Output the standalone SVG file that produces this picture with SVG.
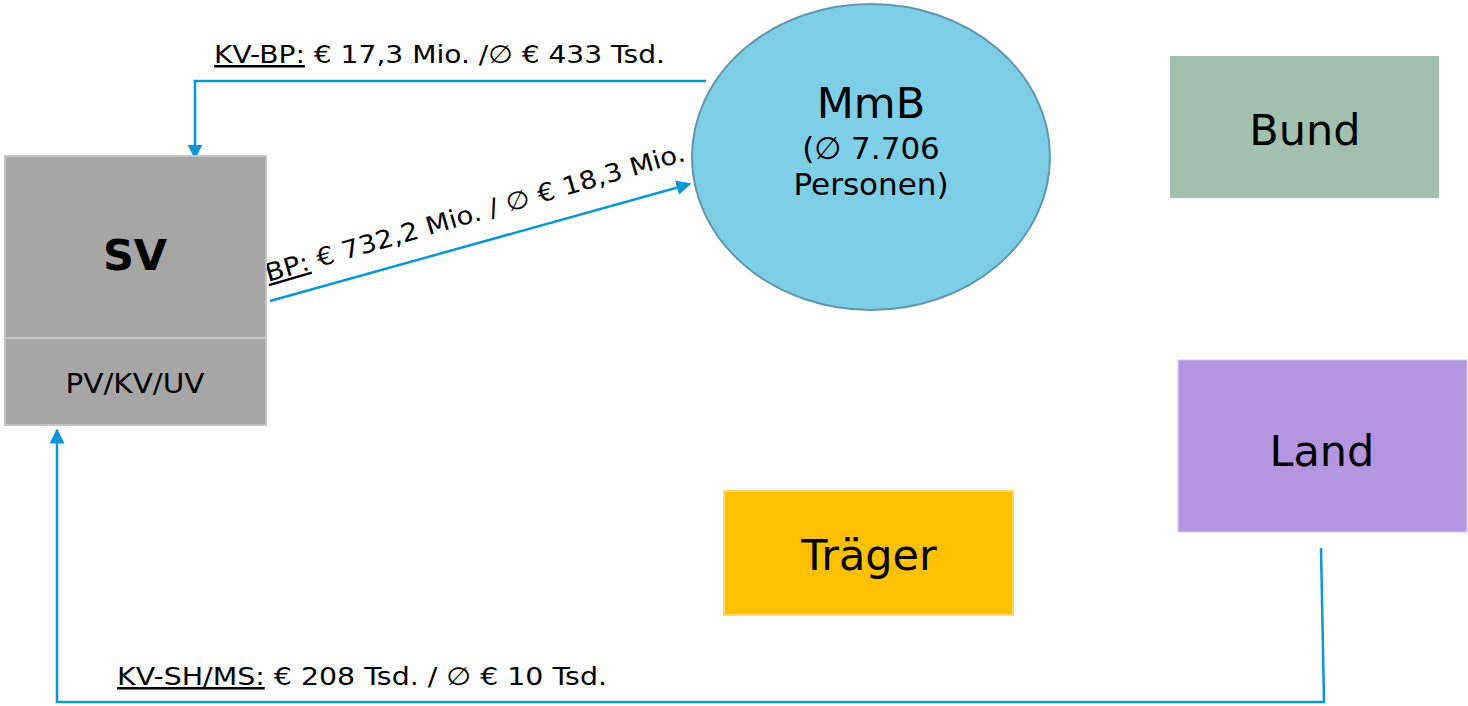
<svg xmlns="http://www.w3.org/2000/svg" width="1468" height="706" viewBox="0 0 1468 706">
<defs>
<style>
text{font-family:"DejaVu Sans","Liberation Sans",sans-serif;fill:#000}
.lbl{font-size:25px}
.u{text-decoration:underline}
.big{font-size:43px;text-anchor:middle}
.conn{fill:none;stroke:#0b96d4;stroke-width:2.5}
</style>
<marker id="arr" viewBox="0 0 10 10" refX="9" refY="5" markerWidth="6" markerHeight="6" orient="auto" markerUnits="strokeWidth"><path d="M0,0 L10,5 L0,10 z" fill="#0b96d4"/></marker>
</defs>
<rect width="1468" height="706" fill="#fff"/>
<g id="connectors">
<polyline class="conn" points="706,81 195,81 195,158" marker-end="url(#arr)"/>
<line class="conn" x1="270" y1="301" x2="690" y2="184" marker-end="url(#arr)"/>
<polyline class="conn" points="1321,548 1324,702 57,702 57,430" marker-end="url(#arr)"/>
<text class="lbl" x="214" y="63" textLength="451" lengthAdjust="spacingAndGlyphs"><tspan class="u">KV-BP:</tspan> € 17,3 Mio. /∅ € 433 Tsd.</text>
<text class="lbl" transform="translate(268,282) rotate(-16.2)" textLength="436" lengthAdjust="spacingAndGlyphs"><tspan class="u">BP:</tspan> € 732,2 Mio. / ∅ € 18,3 Mio.</text>
<text class="lbl" x="117" y="685" textLength="490" lengthAdjust="spacingAndGlyphs"><tspan class="u">KV-SH/MS:</tspan> € 208 Tsd. / ∅ € 10 Tsd.</text>
</g>
<g id="sv">
<rect x="5" y="156" width="261" height="269" fill="#a6a6a6" stroke="#c4c4c4" stroke-width="2"/>
<line x1="5" y1="338" x2="266" y2="338" stroke="#c4c4c4" stroke-width="2"/>
<text x="135" y="270" font-size="43" font-weight="bold" text-anchor="middle">SV</text>
<text x="135" y="393" font-size="26" text-anchor="middle" textLength="139" lengthAdjust="spacingAndGlyphs">PV/KV/UV</text>
</g>
<g id="mmb">
<ellipse cx="871" cy="157" rx="179" ry="153" fill="#7fcee7" stroke="#5e97ad" stroke-width="2"/>
<text class="big" x="871" y="118">MmB</text>
<text x="871" y="159" font-size="31" text-anchor="middle">(∅ 7.706</text>
<text x="871" y="195" font-size="31" text-anchor="middle">Personen)</text>
</g>
<g id="bund">
<rect x="1170" y="56" width="269" height="142" fill="#a3c0ae"/>
<text class="big" x="1305" y="145">Bund</text>
</g>
<g id="land">
<rect x="1178" y="360" width="289" height="172" fill="#b395e0" stroke="#d8c8f2" stroke-width="1"/>
<text class="big" x="1322" y="466">Land</text>
</g>
<g id="traeger">
<rect x="724" y="491" width="289" height="124" fill="#ffc000" stroke="#ffd966" stroke-width="2"/>
<text class="big" x="869" y="570">Träger</text>
</g>
</svg>
